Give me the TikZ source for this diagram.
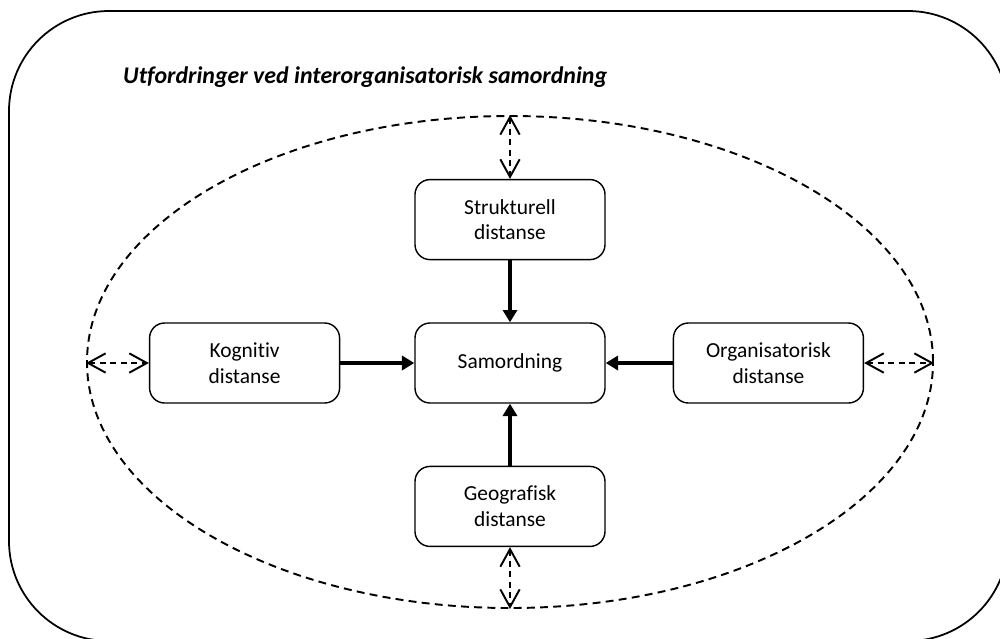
\documentclass[tikz,border=0pt]{standalone}
\usepackage{fontspec}
\setmainfont[Ligatures=NoCommon]{Carlito}
\usetikzlibrary{positioning, shapes.geometric, arrows.meta}
\tikzstyle{distbox} = [rectangle, rounded corners=3mm, minimum width=38mm, minimum height=16mm, text width=34mm, align=center, draw=black, line width=0.8pt, font=\fontsize{12.2}{14.6}\selectfont]
\tikzstyle{ring} = [ellipse, draw=black, line width=1.1pt, dash pattern=on 4.5pt off 3pt, minimum width=169.2mm, minimum height=98.4mm]
\tikzstyle{arrow} = [line width=2pt, -{Triangle[length=7pt, width=8pt]}]
\tikzstyle{dasharrow} = [line width=1.1pt, dash pattern=on 3.5pt off 2.5pt, {Straight Barb[length=10pt, width=11pt]}-{Straight Barb[length=10pt, width=11pt]}]

\begin{document}
\begin{tikzpicture}[x=0.2mm, y=-0.2mm, node distance=12.4mm and 14mm]
        \clip (0,0) rectangle (1000,638);
        \draw[line width=1pt, rounded corners=20mm] (9,11) rectangle (1008,641);
        \node[anchor=base west, font=\fontsize{13.6}{16}\selectfont\bfseries\itshape] (title) at (117,83) {Utfordringer ved interorganisatorisk samordning};

        \node[ring]                                      (outer)          at (510,362) {};
        \node[distbox]                                   (samordning)     at (510,363) {Samordning};
        \node[distbox, above=of samordning]              (strukturell)    {Strukturell\\distanse};
        \node[distbox, below=of samordning]              (geografisk)     {Geografisk\\distanse};
        \node[distbox, left=14.8mm of samordning]        (kognitiv)       {Kognitiv\\distanse};
        \node[distbox, right=13.4mm of samordning]       (organisatorisk) {Organisatorisk\\distanse};

        \draw[arrow] (strukturell)    -- (samordning);
        \draw[arrow] (geografisk)     -- (samordning);
        \draw[arrow] (kognitiv)       -- (samordning);
        \draw[arrow] (organisatorisk) -- (samordning);

        \draw[dasharrow] (strukturell.north |- outer.north) -- (strukturell.north);
        \draw[dasharrow] (geografisk.south) -- (geografisk.south |- outer.south);
        \draw[dasharrow] (kognitiv.west -| outer.west) -- (kognitiv.west);
        \draw[dasharrow] (organisatorisk.east) -- (organisatorisk.east -| outer.east);
    \end{tikzpicture}
\end{document}
